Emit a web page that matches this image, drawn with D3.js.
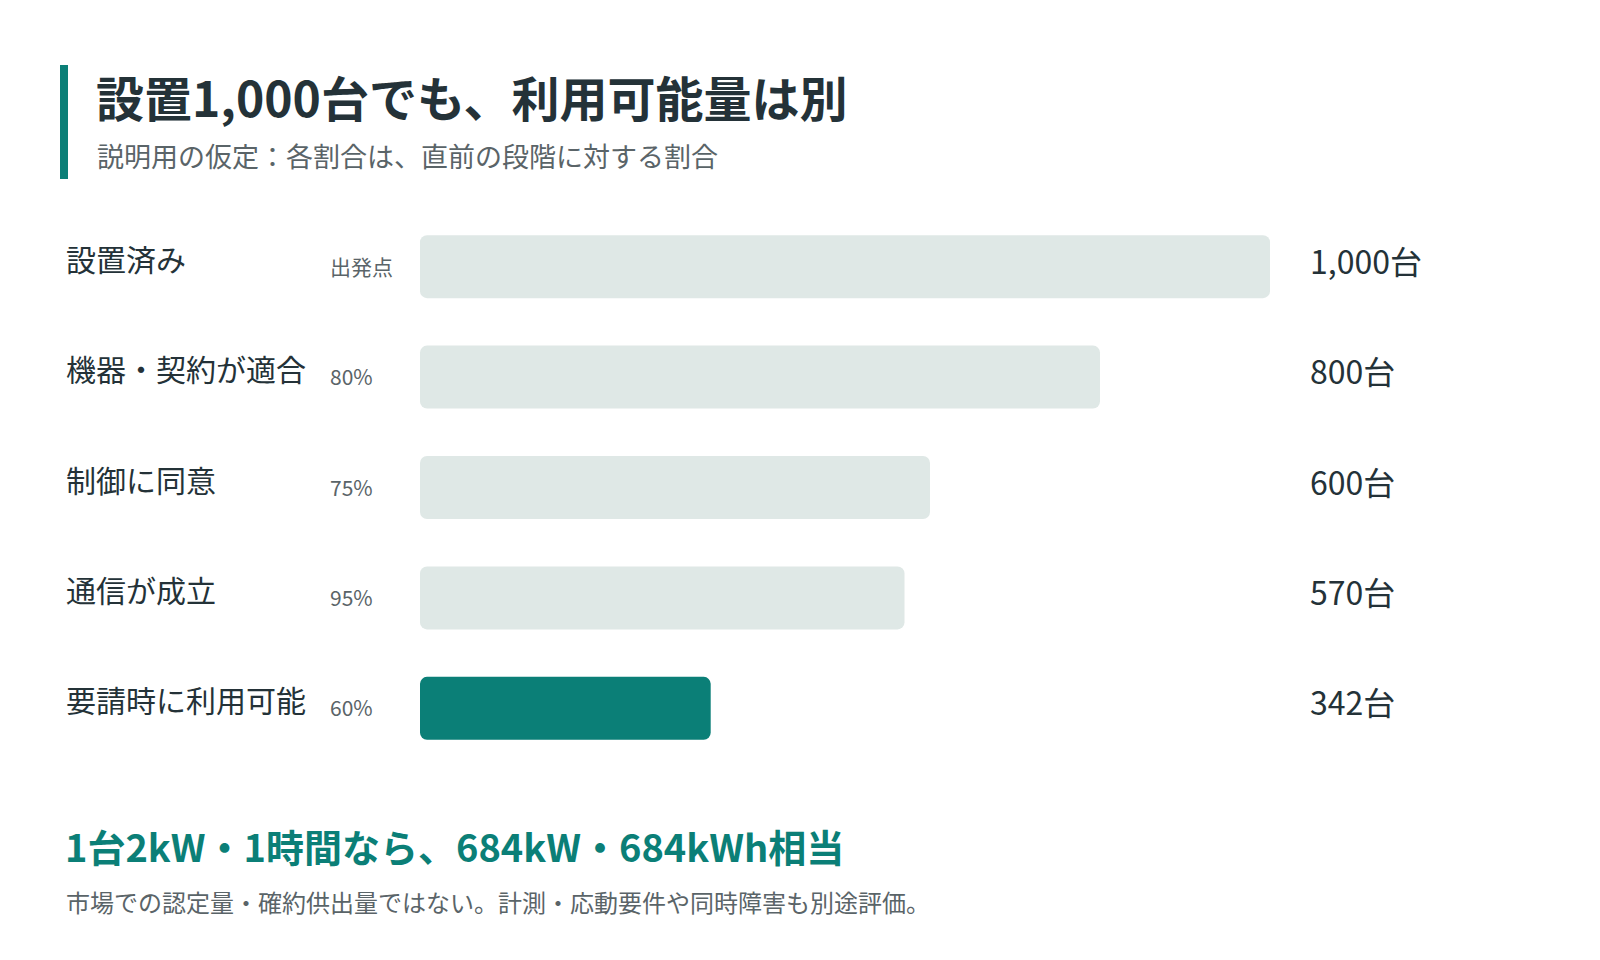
<!DOCTYPE html>
<html><head><meta charset="utf-8">
<script src="https://cdn.jsdelivr.net/npm/d3@7"></script>
<style>body{margin:0;background:#fff}svg{font-family:"Noto Sans CJK JP","Noto Sans",sans-serif}</style>
</head><body><svg width="1600" height="960"></svg>
<script>
var stages = ["設置済み", "機器・契約が適合", "制御に同意", "通信が成立", "要請時に利用可能"];
var rates = ["出発点", "80%", "75%", "95%", "60%"];
var counts = [1000, 800, 600, 570, 342];

var teal = "#0b7f77";
var svg = d3.select("svg");

svg.append("rect").attr("x", 60).attr("y", 65).attr("width", 8).attr("height", 114).attr("fill", teal);
svg.append("text").attr("x", 96).attr("y", 117).attr("font-size", 48).attr("font-weight", 700)
    .attr("fill", "#243238").text("設置1,000台でも、利用可能量は別");
svg.append("text").attr("x", 97).attr("y", 167).attr("font-size", 27)
    .attr("fill", "#5a6468").text("説明用の仮定：各割合は、直前の段階に対する割合");

var x = d3.scaleLinear().domain([0, 1000]).range([420, 1270]);
var y = d3.scaleBand().domain(stages).range([212, 763]).paddingInner(0.43).paddingOuter(0.21);

var row = svg.selectAll("g.row").data(stages).enter().append("g").attr("class", "row");
row.append("rect")
    .attr("x", x(0))
    .attr("y", d => y(d))
    .attr("width", (d, i) => x(counts[i]) - x(0))
    .attr("height", y.bandwidth())
    .attr("rx", 7)
    .attr("fill", (d, i) => i === stages.length - 1 ? teal : "#dfe8e6");
row.append("text").attr("x", 66).attr("y", d => y(d) + y.bandwidth() / 2 + 4)
    .attr("font-size", 30).attr("fill", "#243238").text(d => d);
row.append("text").attr("x", 330).attr("y", d => y(d) + y.bandwidth() / 2 + 8)
    .attr("font-size", 21).attr("fill", "#5a6468").text((d, i) => rates[i]);
row.append("text").attr("x", 1310).attr("y", d => y(d) + y.bandwidth() / 2 + 7)
    .attr("font-size", 32).attr("fill", "#243238").text((d, i) => d3.format(",")(counts[i]) + "台");

svg.append("text").attr("x", 65).attr("y", 862).attr("font-size", 38).attr("font-weight", 700)
    .attr("fill", teal).text("1台2kW・1時間なら、684kW・684kWh相当");
svg.append("text").attr("x", 66).attr("y", 912).attr("font-size", 24)
    .attr("fill", "#5a6468").text("市場での認定量・確約供出量ではない。計測・応動要件や同時障害も別途評価。");
</script></body></html>
